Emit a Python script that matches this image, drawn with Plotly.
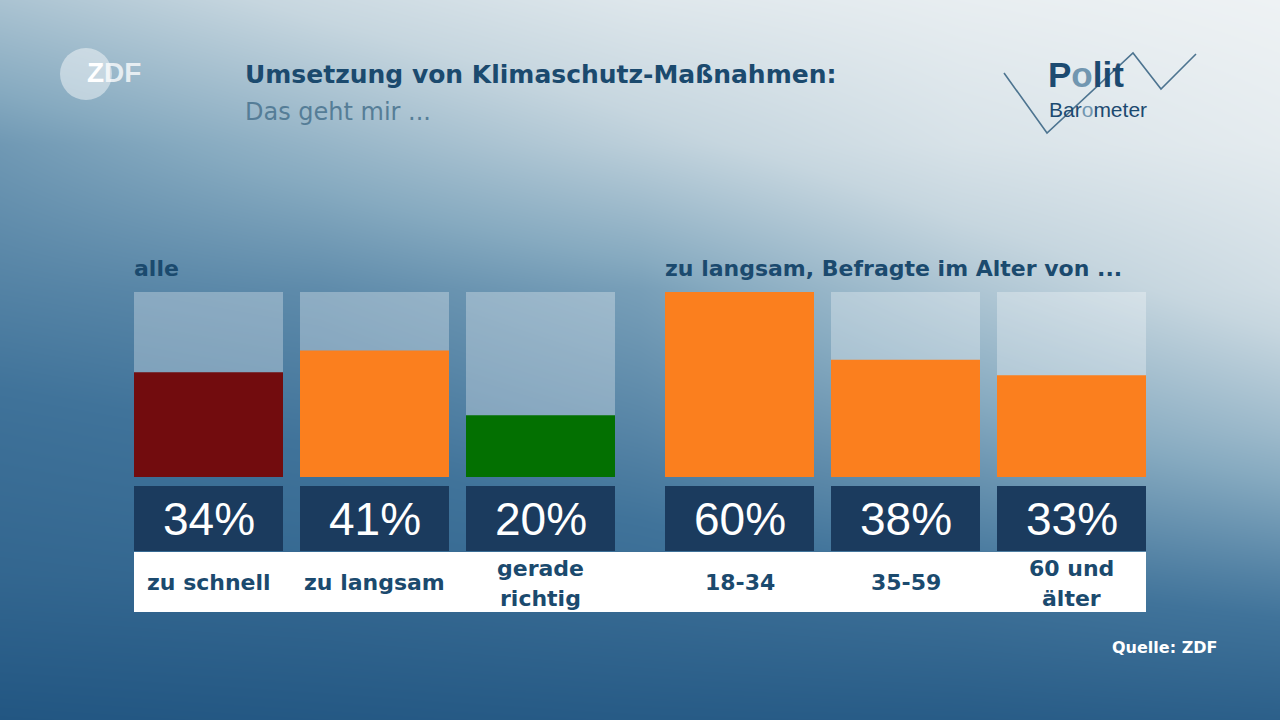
import plotly.graph_objects as go

# ---------------- data ----------------
CATEGORIES_ALL = ["zu schnell", "zu langsam", "gerade<br>richtig"]
VALUES_ALL = [34, 41, 20]
CATEGORIES_AGE = ["18-34", "35-59", "60 und<br>älter"]
VALUES_AGE = [60, 38, 33]
AXIS_MAX = 60
TITLE = "Umsetzung von Klimaschutz-Maßnahmen:"
SUBTITLE = "Das geht mir ..."
GROUP_TITLE_ALL = "alle"
GROUP_TITLE_AGE = "zu langsam, Befragte im Alter von ..."
SOURCE = "Quelle: ZDF"

# ---------------- style ----------------
COLORS_ALL = ["#720c0e", "#fb7f1e", "#037001"]
COLORS_AGE = ["#fb7f1e", "#fb7f1e", "#fb7f1e"]
BOX_COLOR = "#1b3b5e"
TRACK_COLOR = "rgba(255,255,255,0.30)"
TEXT_DARK = "#1b4a6e"
FONT = "DejaVu Sans"
NUM_FONT = "Liberation Sans"

W, H = 1280, 720
BAR_TOP, BAR_BOT = 292, 477
BOX_TOP, BOX_BOT = 486, 551
STRIP_TOP, STRIP_BOT = 552, 612
G1_L, G1_R = 134, 615
G2_L, G2_R = 665, 1146
GAP = 17

ppu = (BAR_BOT - BAR_TOP) / AXIS_MAX


def v(px):
    return (BAR_BOT - px) / ppu


def py(px):
    return 1 - px / H


slot = (G1_R - G1_L + GAP) / 3
dom1 = [(G1_L - GAP / 2) / W, (G1_R + GAP / 2) / W]
dom2 = [(G2_L - GAP / 2) / W, (G2_R + GAP / 2) / W]

# background gradient shading (style only)
BG_X = [0, 320, 640, 960, 1280]
BG_Y = [0, 144, 288, 432, 576, 720]
BG_SHADE = [
    [0.36, 0.22, 0.10, 0.04, 0.00],
    [0.58, 0.44, 0.29, 0.14, 0.06],
    [0.68, 0.64, 0.55, 0.35, 0.18],
    [0.78, 0.74, 0.67, 0.55, 0.41],
    [0.86, 0.84, 0.80, 0.75, 0.68],
    [1.00, 0.98, 0.96, 0.95, 0.92],
]
BG_SCALE = [
    [0.0, "#eef2f4"],
    [0.25, "#c6d6df"],
    [0.5, "#86aac0"],
    [0.75, "#40739a"],
    [1.0, "#225682"],
]

fig = go.Figure()
fig.add_trace(go.Heatmap(x=BG_X, y=BG_Y, z=BG_SHADE, colorscale=BG_SCALE, zmin=0, zmax=1,
                         zsmooth="best", showscale=False, hoverinfo="skip",
                         xaxis="x", yaxis="y"))

annotations = []


def add_group(cats, vals, colors, xa):
    fig.add_trace(go.Bar(x=cats, y=[AXIS_MAX] * len(cats), marker=dict(color=TRACK_COLOR, line_width=0),
                         xaxis=xa, yaxis="y2", hoverinfo="skip", showlegend=False))
    fig.add_trace(go.Bar(x=cats, y=vals, marker=dict(color=colors, line_width=0),
                         xaxis=xa, yaxis="y2", showlegend=False))
    fig.add_trace(go.Bar(x=cats, y=[v(BOX_TOP) - v(BOX_BOT)] * len(cats), base=[v(BOX_BOT)] * len(cats),
                         marker=dict(color=BOX_COLOR, line_width=0),
                         xaxis=xa, yaxis="y2", hoverinfo="skip", showlegend=False))
    for c, val in zip(cats, vals):
        annotations.append(dict(x=c, y=v((BOX_TOP + BOX_BOT) / 2), xref=xa, yref="y2",
                                text=f"{val}%", showarrow=False,
                                font=dict(family=NUM_FONT, size=46, color="white"),
                                xanchor="center", yanchor="middle"))
        lines = c.split("<br>")
        if len(lines) == 1:
            centers = [582]
        else:
            centers = [568, 598]
        for ln, cy in zip(lines, centers):
            annotations.append(dict(x=c, y=py(cy), xref=xa, yref="paper", text=f"<b>{ln}</b>",
                                    showarrow=False, font=dict(family=FONT, size=22, color=TEXT_DARK),
                                    xanchor="center", yanchor="middle"))


add_group(CATEGORIES_ALL, VALUES_ALL, COLORS_ALL, "x2")
add_group(CATEGORIES_AGE, VALUES_AGE, COLORS_AGE, "x3")

# headings
annotations += [
    dict(x=243 / W, y=py(75), xref="paper", yref="paper", text=f"<b>{TITLE}</b>", showarrow=False,
         xanchor="left", yanchor="middle", font=dict(family=FONT, size=25, color=TEXT_DARK)),
    dict(x=243 / W, y=py(112), xref="paper", yref="paper", text=SUBTITLE, showarrow=False,
         xanchor="left", yanchor="middle", font=dict(family=FONT, size=24, color="#557d97")),
    dict(x=(G1_L - 2) / W, y=py(268), xref="paper", yref="paper", text=f"<b>{GROUP_TITLE_ALL}</b>",
         showarrow=False, xanchor="left", yanchor="middle", font=dict(family=FONT, size=22, color=TEXT_DARK)),
    dict(x=(G2_L - 2) / W, y=py(268), xref="paper", yref="paper", text=f"<b>{GROUP_TITLE_AGE}</b>",
         showarrow=False, xanchor="left", yanchor="middle", font=dict(family=FONT, size=22, color=TEXT_DARK)),
    dict(x=1219 / W, y=py(647), xref="paper", yref="paper", text=f"<b>{SOURCE}</b>", showarrow=False,
         xanchor="right", yanchor="middle", font=dict(family=FONT, size=16, color="white")),
    # ZDF logo text
    dict(x=85 / W, y=py(73), xref="paper", yref="paper",
         text="<b>Z<span style='color:rgba(255,255,255,0.75)'>DF</span></b>", showarrow=False,
         xanchor="left", yanchor="middle", font=dict(family=NUM_FONT, size=28, color="white")),
    # Politbarometer logo
    dict(x=1046 / W, y=py(75), xref="paper", yref="paper",
         text="<b>P<span style='color:#7196b0'>o</span>lit</b>", showarrow=False,
         xanchor="left", yanchor="middle", font=dict(family=NUM_FONT, size=35, color="#1c4a70")),
    dict(x=1047 / W, y=py(109), xref="paper", yref="paper",
         text="Bar<span style='color:#7196b0'>o</span>meter", showarrow=False,
         xanchor="left", yanchor="middle", font=dict(family=NUM_FONT, size=21, color="#1c4a70")),
]

zig = [(1004, 73), (1047, 133), (1133, 53), (1161, 89), (1196, 54)]
zig_path = "M " + " L ".join(f"{x / W:.5f},{py(y):.5f}" for x, y in zig)

shapes = [
    dict(type="rect", xref="paper", yref="paper", x0=G1_L / W, x1=G2_R / W,
         y0=py(STRIP_BOT), y1=py(STRIP_TOP), fillcolor="white", line_width=0, layer="above"),
    dict(type="circle", xref="paper", yref="paper", x0=60 / W, x1=112 / W, y0=py(100), y1=py(48),
         fillcolor="rgba(255,255,255,0.45)", line_width=0, layer="above"),
    dict(type="path", xref="paper", yref="paper", path=zig_path,
         line=dict(color="#4d7490", width=1.6), layer="above"),
]

axis_off = dict(showgrid=False, zeroline=False, showticklabels=False, ticks="", showline=False, fixedrange=True)
fig.update_layout(
    width=W, height=H, margin=dict(l=0, r=0, t=0, b=0),
    paper_bgcolor="#3d7399", plot_bgcolor="rgba(0,0,0,0)",
    barmode="overlay", bargap=GAP / slot, showlegend=False,
    xaxis=dict(domain=[0, 1], range=[0, W], **axis_off),
    yaxis=dict(domain=[0, 1], range=[H, 0], **axis_off),
    xaxis2=dict(domain=dom1, anchor="y2", categoryorder="array", categoryarray=CATEGORIES_ALL, **axis_off),
    xaxis3=dict(domain=dom2, anchor="y2", categoryorder="array", categoryarray=CATEGORIES_AGE, **axis_off),
    yaxis2=dict(domain=[0, 1], range=[v(H), v(0)], anchor="x2", **axis_off),
    annotations=annotations, shapes=shapes,
)

fig.write_html("out.html", config={"displayModeBar": False},
               post_script="document.body.style.margin='0px';")
